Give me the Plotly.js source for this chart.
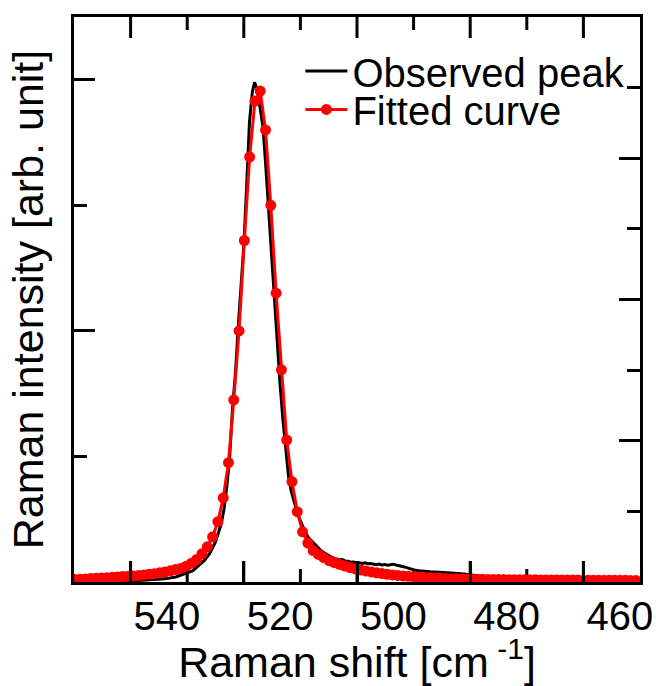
<!DOCTYPE html>
<html>
<head>
<meta charset="utf-8">
<script src="https://cdn.plot.ly/plotly-3.0.1.min.js"></script>
<style>html,body{margin:0;padding:0;background:#fff;}</style>
</head>
<body>
<div id="chart" style="width:656px;height:686px;"></div>
<script>
// Observed Raman spectrum (black line)
var obsShift = [550, 548, 546, 544, 542, 540, 538, 536, 534, 532, 530, 529, 528, 527, 526, 525, 524, 523.5, 523, 522.5, 522, 521.5, 521, 520.5, 520, 519.5, 519, 518.5, 518.1, 517.6, 517.1, 516.6, 516.1, 515.6, 515.1, 514.6, 514.1, 513.6, 513.1, 512.6, 512.1, 511.6, 511.1, 510.6, 510.1, 509.6, 509.1, 508.6, 508.1, 507.6, 507.1, 506.6, 506.1, 505.6, 505.1, 504.6, 504.1, 503.6, 503.1, 502.6, 502.1, 501.6, 501.1, 500.6, 500.1, 499.6, 499.1, 498.6, 498.1, 497.6, 497.1, 496.6, 496.1, 495.6, 495.1, 494.6, 494.1, 493.6, 493.1, 492.6, 492.1, 491.6, 491.1, 490.6, 490.1, 489.6, 489.1, 488.6, 488.1, 487.6, 487.1, 486.1, 485.1, 484.1, 483.1, 482.1, 481.1, 480.1, 479.1, 478.1, 477.1, 476.1, 474, 472, 470, 468, 466, 464, 462, 460, 458, 456, 454, 452, 450];
var obsIntensity = [0.005, 0.005, 0.006, 0.007, 0.008, 0.010, 0.013, 0.018, 0.025, 0.04, 0.07, 0.09, 0.13, 0.17, 0.23, 0.32, 0.46, 0.58, 0.76, 0.99, 1.38, 1.65, 2.02, 2.35, 2.68, 3.15, 3.66, 3.90, 3.98, 3.92, 3.78, 3.62, 3.30, 2.95, 2.60, 2.22, 1.90, 1.58, 1.30, 1.04, 0.84, 0.72, 0.63, 0.56, 0.50, 0.44, 0.39, 0.355, 0.33, 0.31, 0.285, 0.26, 0.24, 0.225, 0.212, 0.20, 0.19, 0.18, 0.175, 0.178, 0.168, 0.165, 0.158, 0.16, 0.152, 0.153, 0.147, 0.152, 0.145, 0.148, 0.142, 0.138, 0.143, 0.136, 0.14, 0.134, 0.138, 0.142, 0.136, 0.132, 0.128, 0.12, 0.113, 0.105, 0.098, 0.093, 0.089, 0.086, 0.084, 0.083, 0.082, 0.08, 0.078, 0.076, 0.072, 0.068, 0.063, 0.057, 0.05, 0.044, 0.038, 0.033, 0.027, 0.022, 0.019, 0.017, 0.015, 0.014, 0.013, 0.012, 0.012, 0.011, 0.011, 0.010, 0.010];

// Fitted curve (red line with markers)
var fitShift = [549.82, 548.89, 547.95, 547.02, 546.08, 545.15, 544.21, 543.28, 542.34, 541.41, 540.47, 539.54, 538.60, 537.67, 536.73, 535.80, 534.86, 533.93, 532.99, 532.06, 531.12, 530.19, 529.25, 528.32, 527.38, 526.45, 525.51, 524.58, 523.64, 522.71, 521.77, 520.84, 519.90, 518.97, 518.03, 517.10, 516.16, 515.23, 514.29, 513.36, 512.42, 511.49, 510.55, 509.62, 508.68, 507.75, 506.81, 505.88, 504.94, 504.01, 503.07, 502.14, 501.20, 500.27, 499.33, 498.40, 497.46, 496.53, 495.59, 494.66, 493.72, 492.79, 491.85, 490.92, 489.98, 489.05, 488.11, 487.18, 486.24, 485.31, 484.37, 483.44, 482.50, 481.57, 480.63, 479.70, 478.76, 477.83, 476.89, 475.96, 475.02, 474.09, 473.15, 472.22, 471.28, 470.35, 469.41, 468.48, 467.54, 466.61, 465.67, 464.74, 463.80, 462.87, 461.93, 461.00, 460.06, 459.13, 458.19, 457.26, 456.32, 455.39, 454.45, 453.52, 452.58, 451.65, 450.71];
var fitIntensity = [0.020, 0.022, 0.024, 0.027, 0.029, 0.031, 0.034, 0.037, 0.040, 0.043, 0.045, 0.048, 0.052, 0.056, 0.061, 0.066, 0.073, 0.080, 0.089, 0.099, 0.108, 0.125, 0.150, 0.180, 0.225, 0.280, 0.360, 0.480, 0.670, 0.950, 1.450, 2.000, 2.720, 3.385, 3.830, 3.910, 3.600, 3.000, 2.300, 1.690, 1.130, 0.800, 0.560, 0.400, 0.310, 0.250, 0.220, 0.195, 0.170, 0.155, 0.140, 0.127, 0.115, 0.104, 0.095, 0.087, 0.080, 0.073, 0.067, 0.061, 0.056, 0.052, 0.048, 0.045, 0.042, 0.039, 0.036, 0.034, 0.031, 0.029, 0.027, 0.026, 0.025, 0.024, 0.023, 0.022, 0.021, 0.021, 0.020, 0.020, 0.019, 0.019, 0.018, 0.018, 0.018, 0.017, 0.017, 0.017, 0.016, 0.016, 0.016, 0.016, 0.015, 0.015, 0.015, 0.015, 0.014, 0.014, 0.014, 0.014, 0.013, 0.013, 0.013, 0.013, 0.013, 0.012, 0.012];

// Axis tick labels
var xTickVals = [540, 520, 500, 480, 460];
var xTickText = ['540', '520', '500', '480', '460'];
var xMinorVals = [530, 510, 490, 470];

var seriesNames = ['Observed peak', 'Fitted curve'];

var FONT = 'Arial, "Liberation Sans", sans-serif';
var BLACK = '#000000';
var Y_RANGE = [0, 4.5];

// The Raman shift axis runs from high to low: plot -shift on a normal axis
function flip(arr) { return arr.map(function (v) { return -v; }); }
var X_RANGE = [-550, -450];

// Inward x tick marks on bottom and top frame edges, as one line trace in axis units
var PX_PER_UNIT = (686 - 17 - 104) / (Y_RANGE[1] - Y_RANGE[0]);
function tickSegments(vals, lenPx) {
  var h = lenPx / PX_PER_UNIT, xs = [], ys = [];
  vals.forEach(function (v) {
    xs.push(-v, -v, null, -v, -v, null);
    ys.push(Y_RANGE[0], Y_RANGE[0] + h, null, Y_RANGE[1], Y_RANGE[1] - h, null);
  });
  return {x: xs, y: ys};
}
var majorSeg = tickSegments(xTickVals, 21);
var minorSeg = tickSegments(xMinorVals, 13);

var traces = [
  {
    x: majorSeg.x.concat(minorSeg.x), y: majorSeg.y.concat(minorSeg.y),
    type: 'scatter', mode: 'lines', showlegend: false, hoverinfo: 'skip',
    connectgaps: false, cliponaxis: false,
    line: {color: BLACK, width: 3}
  },
  {
    x: flip(obsShift), y: obsIntensity, name: seriesNames[0],
    type: 'scatter', mode: 'lines', legend: 'legend',
    line: {color: BLACK, width: 3}
  },
  {
    x: flip(fitShift), y: fitIntensity, name: seriesNames[1],
    type: 'scatter', mode: 'lines+markers', legend: 'legend2',
    line: {color: '#ff0000', width: 3},
    marker: {color: '#ff0000', size: 11}
  },
  {x: [-549, -451], y: [-1, -1], xaxis: 'x', yaxis: 'y2', showlegend: false, hoverinfo: 'skip',
   type: 'scatter', mode: 'lines', line: {color: 'rgba(0,0,0,0)', width: 0}}
];

var legendBase = {
  xanchor: 'left', yanchor: 'top',
  font: {family: FONT, size: 40, color: BLACK},
  bgcolor: 'rgba(0,0,0,0)', borderwidth: 0, itemwidth: 42
};

var layout = {
  width: 656, height: 686,
  margin: {l: 74, r: 16, t: 17, b: 104},
  paper_bgcolor: '#ffffff', plot_bgcolor: '#ffffff',
  font: {family: FONT, color: BLACK},
  showlegend: true,
  legend: Object.assign({}, legendBase, {x: 0.40, y: 0.962}),
  legend2: Object.assign({}, legendBase, {x: 0.40, y: 0.894}),
  xaxis: {
    range: X_RANGE,
    tickmode: 'array', tickvals: flip(xTickVals), ticktext: xTickText,
    ticks: 'inside', ticklen: 21, tickwidth: 3, tickcolor: BLACK,
    ticklabelposition: 'outside right', ticklabelstandoff: -3,
    showline: true, linewidth: 3, linecolor: BLACK, mirror: true,
    showgrid: false, zeroline: false,
    tickfont: {family: FONT, size: 40, color: BLACK},
    title: {text: 'Raman shift [cm<sup> -1</sup>]', font: {family: FONT, size: 43, color: BLACK}, standoff: 8}
  },
  yaxis: {
    range: Y_RANGE,
    tickmode: 'linear', tick0: 0, dtick: 2,
    ticks: 'inside', ticklen: 21, tickwidth: 3, tickcolor: BLACK,
    minor: {dtick: 1, tick0: 0, ticks: 'inside', ticklen: 13, tickwidth: 3, tickcolor: BLACK, showgrid: false},
    showline: true, linewidth: 3, linecolor: BLACK, mirror: false,
    showgrid: false, zeroline: false, showticklabels: false,
    title: {text: 'Raman intensity [arb. unit]', font: {family: FONT, size: 43, color: BLACK}, standoff: 14}
  },
  yaxis2: {
    overlaying: 'y', side: 'right', anchor: 'x',
    range: [0, 8],
    tickmode: 'linear', tick0: 0, dtick: 2,
    ticks: 'inside', ticklen: 21, tickwidth: 3, tickcolor: BLACK,
    minor: {dtick: 1, tick0: 0, ticks: 'inside', ticklen: 13, tickwidth: 3, tickcolor: BLACK, showgrid: false},
    showline: true, linewidth: 3, linecolor: BLACK,
    showgrid: false, zeroline: false, showticklabels: false
  }
};

Plotly.newPlot('chart', traces, layout, {displayModeBar: false, staticPlot: true});
</script>
</body>
</html>
